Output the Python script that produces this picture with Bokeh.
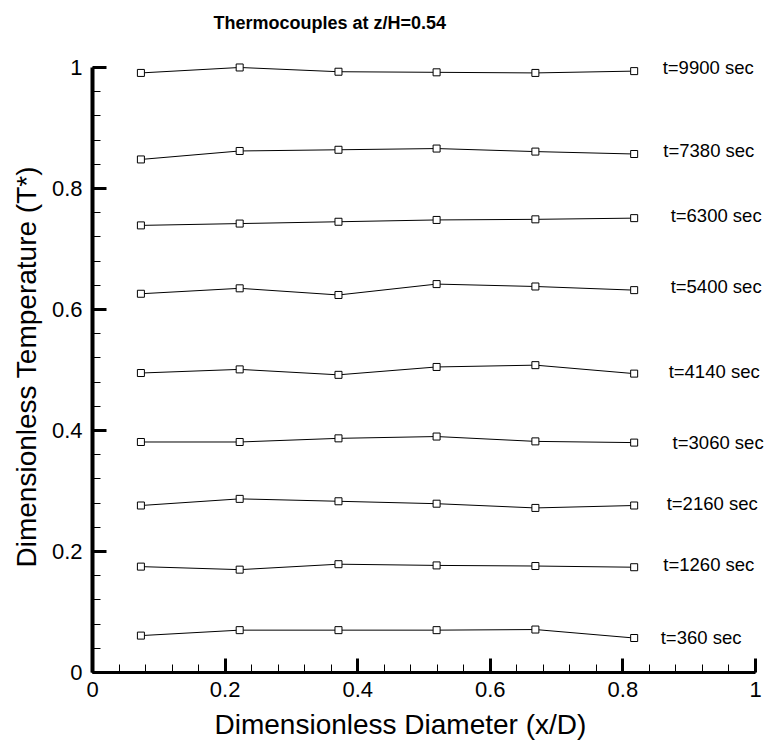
from bokeh.plotting import figure
from bokeh.models import Range1d, FixedTicker, ColumnDataSource, Title
from bokeh.core.properties import value
from bokeh.embed import file_html
from bokeh.resources import INLINE

# ---- data ----
x_pos = [0.073, 0.222, 0.371, 0.519, 0.668, 0.817]
series_names = ["t=360 sec", "t=1260 sec", "t=2160 sec", "t=3060 sec", "t=4140 sec",
                "t=5400 sec", "t=6300 sec", "t=7380 sec", "t=9900 sec"]
t360 = [0.061, 0.070, 0.070, 0.070, 0.071, 0.057]
t1260 = [0.175, 0.170, 0.179, 0.177, 0.176, 0.174]
t2160 = [0.276, 0.287, 0.283, 0.279, 0.272, 0.276]
t3060 = [0.381, 0.381, 0.387, 0.390, 0.382, 0.380]
t4140 = [0.495, 0.501, 0.492, 0.505, 0.508, 0.494]
t5400 = [0.626, 0.635, 0.624, 0.642, 0.638, 0.632]
t6300 = [0.739, 0.742, 0.745, 0.748, 0.749, 0.751]
t7380 = [0.848, 0.862, 0.864, 0.866, 0.861, 0.857]
t9900 = [0.991, 1.000, 0.993, 0.992, 0.991, 0.994]
all_series = [t360, t1260, t2160, t3060, t4140, t5400, t6300, t7380, t9900]

# label anchors (data units)
label_x = [0.857, 0.861, 0.866, 0.875, 0.869, 0.872, 0.872, 0.861, 0.860]
label_y = [0.058, 0.179, 0.279, 0.380, 0.498, 0.638, 0.755, 0.863, 1.000]

major_ticks = [0, 0.2, 0.4, 0.6, 0.8, 1]
tick_labels = ["0", "0.2", "0.4", "0.6", "0.8", "1"]
minor_ticks = [round(0.04 * i, 2) for i in range(26)]

FONT = "Liberation Sans"

p = figure(width=766, height=747,
           x_range=Range1d(0, 1.0166), y_range=Range1d(0, 1.0446),
           output_backend="svg", toolbar_location=None,
           min_border_left=92, min_border_right=0,
           min_border_top=40, min_border_bottom=75)

p.title.text = "Thermocouples at z/H=0.54"
p.title.align = "left"
p.title.offset = 121
p.title.standoff = 16
p.title.text_font = FONT
p.title.text_font_size = "18px"
p.title.text_font_style = "bold"
p.title.text_color = "black"

p.grid.visible = False
p.outline_line_color = None
p.background_fill_color = "white"
p.border_fill_color = "white"

for ax in (p.xaxis[0], p.yaxis[0]):
    ax.bounds = (0, 1)
    ax.ticker = FixedTicker(ticks=major_ticks, minor_ticks=minor_ticks)
    ax.major_label_overrides = {t: l for t, l in zip(major_ticks, tick_labels)}
    ax.major_tick_in = 14
    ax.major_tick_out = 0
    ax.minor_tick_in = 8
    ax.minor_tick_out = 0
    ax.major_tick_line_width = 3
    ax.minor_tick_line_width = 1
    ax.major_tick_line_color = "black"
    ax.minor_tick_line_color = "black"
    ax.axis_line_color = "black"
    ax.major_label_text_font = FONT
    ax.major_label_text_font_size = "22px"
    ax.major_label_text_color = "black"

p.xaxis.axis_line_width = 3
p.yaxis.axis_line_width = 4
p.xaxis.major_label_standoff = 9
p.yaxis.major_label_standoff = 10

# axis titles as title panels outside the axes
p.add_layout(Title(text="Dimensionless Diameter (x/D)", align="left", offset=122,
                   standoff=15, text_font=FONT, text_font_size="28px",
                   text_font_style="normal", text_color="black"), "below")
p.add_layout(Title(text="Dimensionless Temperature (T*)", align="left", offset=105,
                   standoff=13, text_font=FONT, text_font_size="28px",
                   text_font_style="normal", text_color="black"), "left")

for ys in all_series:
    src = ColumnDataSource(dict(x=x_pos, y=ys))
    p.line("x", "y", source=src, line_color="black", line_width=1)
    p.scatter("x", "y", source=src, marker="square", size=7,
              fill_color="white", line_color="black", line_width=1)

lab = ColumnDataSource(dict(x=label_x, y=label_y, text=series_names))
p.text("x", "y", text="text", source=lab, text_font=value(FONT),
       text_font_size="18.5px", text_baseline="middle", text_align="left",
       text_color="black")

open("out.html", "w").write(file_html(p, INLINE))
